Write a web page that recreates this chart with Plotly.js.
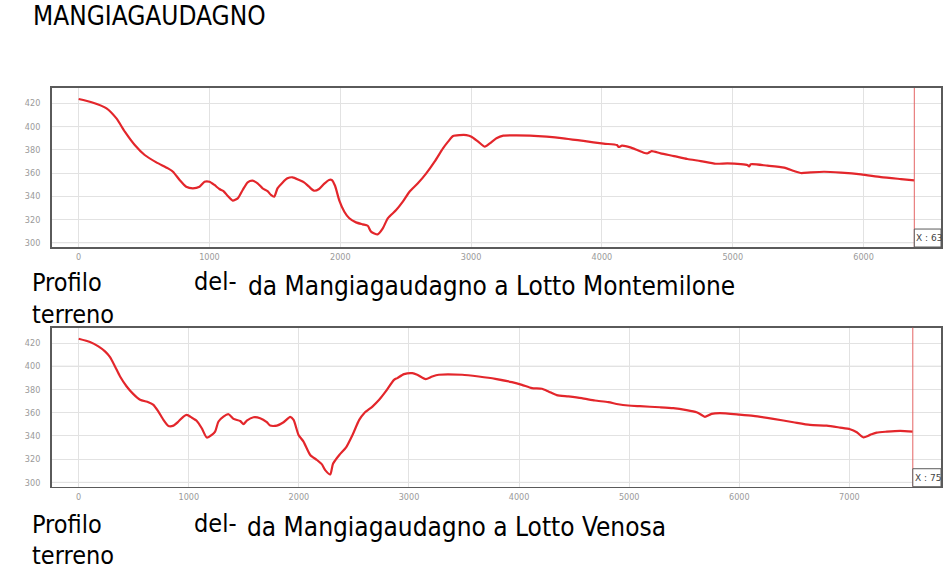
<!DOCTYPE html>
<html>
<head>
<meta charset="utf-8">
<script src="https://cdn.plot.ly/plotly-3.0.1.min.js"></script>
<style>
html,body{margin:0;padding:0;background:#fff;}
#chart{width:946px;height:585px;}
</style>
</head>
<body>
<div id="chart"></div>
<script>
// Profile 1: da Mangiagaudagno a Lotto Montemilone (distance m, elevation m)
const topDist = [0, 99, 213, 289, 353, 429, 505, 594, 683, 721, 772, 822, 873, 924, 962, 1000, 1038, 1076, 1107, 1140,
  1178, 1216, 1254, 1292, 1330, 1368, 1406, 1444, 1470, 1495, 1520, 1558, 1596, 1635, 1685, 1723, 1761, 1799, 1838, 1876,
  1914, 1935, 1960, 1992, 2031, 2069, 2120, 2171, 2210, 2235, 2286, 2325, 2363, 2427, 2478, 2529, 2593, 2657, 2721, 2785,
  2824, 2862, 2913, 2964, 3003, 3054, 3105, 3143, 3194, 3246, 3348, 3450, 3578, 3706, 3859, 4013, 4115, 4128, 4153, 4217,
  4269, 4320, 4350, 4380, 4449, 4551, 4653, 4755, 4870, 4959, 5061, 5112, 5125, 5138, 5265, 5393, 5469, 5520, 5597, 5699,
  5827, 5980, 6133, 6286, 6388];
const topElev = [423.7, 420.9, 415.7, 407, 395.6, 384.1, 375.5, 369.2, 364, 361.1, 354, 348.2, 346.8, 348.2, 352.5, 352.5, 349.7, 346.2, 344.5, 340.2,
  336.2, 338.2, 345.4, 352, 353.4, 351.1, 346.8, 344.5, 341.1, 339.6, 346.8, 351.7, 355.4, 356.3, 354, 352, 348.2, 344.8, 346.2, 350.6,
  354, 354, 349, 336.5, 326.7, 321, 317.5, 315.8, 314.6, 309.5, 307.2, 312.3, 321, 328.1, 335.3, 343.9, 351.1, 359.7, 369.8, 381.2,
  387, 391.9, 392.7, 392.7, 391.3, 387, 382.7, 385.5, 389.9, 392.2, 392.4, 392.2, 391.3, 389.9, 387.6, 385.3, 384.1, 382.4, 383.5, 382.1,
  379.8, 377.5, 377, 378.9, 376.9, 374.6, 372.1, 370.3, 368, 368.3, 367.7, 366.9, 365.7, 367.5, 366.3, 364.6, 361.7, 360, 360.6, 361.1,
  360.3, 358.8, 356.5, 354.8, 353.7];

// Profile 2: da Mangiagaudagno a Lotto Venosa
const botDist = [0, 103, 179, 239, 285, 330, 376, 436, 497, 558, 633, 679, 724, 770, 815, 861, 906, 952, 982, 1027,
  1073, 1118, 1164, 1209, 1239, 1270, 1315, 1361, 1406, 1467, 1497, 1527, 1588, 1648, 1709, 1739, 1800, 1861, 1921, 1952,
  1997, 2042, 2103, 2164, 2209, 2239, 2285, 2310, 2367, 2427, 2487, 2548, 2593, 2668, 2729, 2789, 2864, 2894, 2955, 3030,
  3075, 3151, 3211, 3271, 3483, 3633, 3784, 3935, 4026, 4116, 4207, 4267, 4342, 4448, 4569, 4689, 4810, 4900, 4991, 5097,
  5279, 5400, 5521, 5612, 5658, 5688, 5748, 5824, 6000, 6127, 6309, 6491, 6642, 6794, 6915, 7006, 7067, 7127, 7188, 7248,
  7339, 7461, 7576];
const botElev = [423.7, 420.9, 417.1, 412.8, 407.9, 399.9, 391.2, 382.6, 376, 371.1, 369.1, 366.8, 361, 353.8, 348.6, 348.9, 352.4, 356.7, 358.1, 355.8,
  352.9, 346.6, 338.6, 340.9, 343.7, 352.4, 356.7, 358.7, 354.7, 352.9, 350.1, 353.2, 356.1, 355.3, 351.8, 348.9, 348.9, 351.8, 356.4, 353.8,
  340.9, 335.1, 323.6, 319.3, 315.5, 310.6, 306.9, 316, 323.6, 329.9, 340.9, 353.8, 359.6, 365.3, 371.1, 378.3, 388.3, 389.8, 393.2, 394.1,
  392.7, 388.9, 391.2, 392.7, 392.7, 391.2, 389.2, 386.3, 384, 381.2, 380.6, 378.3, 375.1, 374, 372.5, 370.5, 369.1, 367.3, 366.2, 365.6,
  364.7, 363.9, 362.2, 360.4, 358.1, 356.4, 359, 359.6, 358.4, 357.3, 354.7, 351.8, 349.5, 348.9, 347.2, 345.8, 343.2, 338.8, 340.9, 342.9,
  343.7, 344.3, 343.7];

const yTicks = [300, 320, 340, 360, 380, 400, 420];
const topXTicks = [0, 1000, 2000, 3000, 4000, 5000, 6000];
const botXTicks = [0, 1000, 2000, 3000, 4000, 5000, 6000, 7000];

const pageTitle = 'MANGIAGAUDAGNO';
const captionLeft1 = 'Profilo';
const captionLeft2 = 'terreno';
const captionMid = 'del-';
const topCaption = 'da Mangiagaudagno a Lotto Montemilone';
const botCaption = 'da Mangiagaudagno a Lotto Venosa';
const topCursor = 'X : 63';
const botCursor = 'X : 75';

const W = 946, H = 585;
const px = v => v / W;
const py = v => 1 - v / H;

const lineColor = '#e3262b';
const tickFont = {family: '"Liberation Sans Narrow", "DejaVu Sans Condensed", "Liberation Sans", sans-serif', size: 9, color: '#9a9a9a'};
const textFamily = '"DejaVu Sans Condensed", Tahoma, "DejaVu Sans", sans-serif';

function axisX(range, ticks, anchor, domain) {
  return {
    domain: domain, range: range, anchor: anchor, tickvals: ticks, ticktext: ticks.map(String),
    showgrid: true, gridcolor: '#e2e2e2', gridwidth: 1, zeroline: false,
    showline: true, linecolor: '#5a5a5a', linewidth: 1.6, mirror: true,
    ticks: '', tickfont: tickFont, ticklabelstandoff: 1, automargin: false, fixedrange: true
  };
}
function axisY(range, anchor, domain) {
  return {
    domain: domain, range: range, anchor: anchor, tickvals: yTicks, ticktext: yTicks.map(String),
    showgrid: true, gridcolor: '#e2e2e2', gridwidth: 1, zeroline: false,
    showline: true, linecolor: '#5a5a5a', linewidth: 1.6, mirror: true,
    ticks: '', tickfont: tickFont, ticklabelstandoff: 8, automargin: false, fixedrange: true
  };
}

const xDom = [px(51.7), px(941)];
const topDom = [py(247), py(88)];
const botDom = [py(486.7), py(327.7)];

const traces = [
  {x: topDist, y: topElev, type: 'scatter', mode: 'lines', xaxis: 'x', yaxis: 'y',
   line: {color: lineColor, width: 2.2, shape: 'spline', smoothing: 0.6}, hoverinfo: 'x+y'},
  {x: botDist, y: botElev, type: 'scatter', mode: 'lines', xaxis: 'x2', yaxis: 'y2',
   line: {color: lineColor, width: 2.2, shape: 'spline', smoothing: 0.6}, hoverinfo: 'x+y'}
];

const topEnd = topDist[topDist.length - 1];
const botEnd = botDist[botDist.length - 1];
const topXRange = [-206, 6592];
const botXRange = [-245, 7832];
const yRange = [296.3, 433.2];

function cursorShapes(xr, yr, xEnd, boxTop) {
  return [
    {type: 'line', xref: xr, yref: yr + ' domain', x0: xEnd, x1: xEnd, y0: 0, y1: 1, line: {color: '#e46464', width: 1}},
    {type: 'rect', xref: xr, yref: yr + ' domain', x0: xEnd, x1: (xr === 'x' ? topXRange[1] : botXRange[1]), y0: 0, y1: boxTop,
     fillcolor: '#ffffff', line: {color: '#5a5a5a', width: 1}},
    {type: 'line', xref: xr + ' domain', yref: yr, x0: 0, x1: 1, y0: 400, y1: 400, line: {color: '#d0d0d0', width: 1}, layer: 'below'},
    {type: 'line', xref: xr + ' domain', yref: yr, x0: 0, x1: 1, y0: 300, y1: 300, line: {color: '#d0d0d0', width: 1}, layer: 'below'}
  ];
}

const bigFont = {family: textFamily, size: 25, color: '#000'};
const capFont = {family: textFamily, size: 26, color: '#000'};
const cursorFont = {family: '"DejaVu Sans", "Liberation Sans", sans-serif', size: 9, color: '#444'};

const annotations = [
  {text: pageTitle, xref: 'paper', yref: 'paper', x: px(31), y: py(16), xanchor: 'left', yanchor: 'middle', showarrow: false,
   font: {family: textFamily, size: 26, color: '#000'}},
  // top captions
  {text: captionLeft1, xref: 'paper', yref: 'paper', x: px(30), y: py(282), xanchor: 'left', yanchor: 'middle', showarrow: false, font: bigFont},
  {text: captionLeft2, xref: 'paper', yref: 'paper', x: px(30), y: py(314), xanchor: 'left', yanchor: 'middle', showarrow: false, font: bigFont},
  {text: captionMid, xref: 'paper', yref: 'paper', x: px(192), y: py(281), xanchor: 'left', yanchor: 'middle', showarrow: false, font: bigFont},
  {text: topCaption, xref: 'paper', yref: 'paper', x: px(246), y: py(286), xanchor: 'left', yanchor: 'middle', showarrow: false, font: capFont},
  // bottom captions
  {text: captionLeft1, xref: 'paper', yref: 'paper', x: px(30), y: py(524), xanchor: 'left', yanchor: 'middle', showarrow: false, font: bigFont},
  {text: captionLeft2, xref: 'paper', yref: 'paper', x: px(30), y: py(555), xanchor: 'left', yanchor: 'middle', showarrow: false, font: bigFont},
  {text: captionMid, xref: 'paper', yref: 'paper', x: px(192), y: py(523), xanchor: 'left', yanchor: 'middle', showarrow: false, font: bigFont},
  {text: botCaption, xref: 'paper', yref: 'paper', x: px(245), y: py(527), xanchor: 'left', yanchor: 'middle', showarrow: false, font: capFont},
  // cursor labels
  {text: topCursor, xref: 'x', yref: 'y domain', x: topEnd, y: 0.057, xanchor: 'left', yanchor: 'middle', xshift: 0, showarrow: false, font: cursorFont},
  {text: botCursor, xref: 'x2', yref: 'y2 domain', x: botEnd, y: 0.057, xanchor: 'left', yanchor: 'middle', xshift: 0, showarrow: false, font: cursorFont}
];

const layout = {
  width: W, height: H,
  margin: {l: 0, r: 0, t: 0, b: 0, pad: 0},
  paper_bgcolor: '#ffffff', plot_bgcolor: '#ffffff',
  showlegend: false,
  xaxis: axisX(topXRange, topXTicks, 'y', xDom),
  yaxis: axisY(yRange, 'x', topDom),
  xaxis2: axisX(botXRange, botXTicks, 'y2', xDom),
  yaxis2: axisY(yRange, 'x2', botDom),
  shapes: cursorShapes('x', 'y', topEnd, 0.113).concat(cursorShapes('x2', 'y2', botEnd, 0.113)),
  annotations: annotations
};

Plotly.newPlot('chart', traces, layout, {displayModeBar: false, staticPlot: true});
</script>
</body>
</html>
